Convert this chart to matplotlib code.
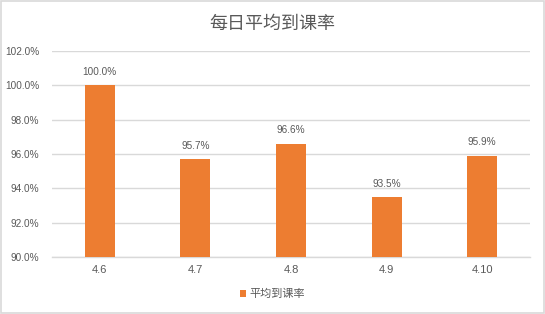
import matplotlib

matplotlib.use("Agg")
import matplotlib.pyplot as plt
import numpy as np
from matplotlib.patches import Rectangle

plt.rcParams["font.family"] = ["Liberation Sans", "Noto Sans CJK SC", "DejaVu Sans"]

TITLE = "每日平均到课率"
SERIES_NAME = "平均到课率"
categories = ["4.6", "4.7", "4.8", "4.9", "4.10"]
rates = [100.0, 95.7, 96.6, 93.5, 95.9]
y_ticks = [90, 92, 94, 96, 98, 100, 102]

TEXT = "#595959"
GRID = "#D9D9D9"
BAR = "#ED7D31"

fig = plt.figure(figsize=(5.45, 3.14), dpi=100)
fig.patch.set_facecolor("white")
fig.add_artist(Rectangle((0.001, 0.002), 0.997, 0.995, transform=fig.transFigure,
                         fill=False, edgecolor=GRID, lw=1.2))

ax = fig.add_axes([0.0954, 0.1815, 0.877, 0.6561])
x = np.arange(len(categories))
bars = ax.bar(x, rates, width=0.314, color=BAR, zorder=3, label=SERIES_NAME)

for xi, v in zip(x, rates):
    ax.annotate(f"{v:.1f}%", (xi, v), xytext=(0, 6), textcoords="offset points",
                ha="center", va="bottom", fontsize=7.2, color=TEXT)

ax.set_xlim(-0.5, len(categories) - 0.5)
ax.set_ylim(90, 102)
ax.set_yticks(y_ticks)
ax.set_yticklabels([f"{t:.1f}%" for t in y_ticks])
ax.set_xticks(x)
ax.set_xticklabels(categories)
ax.tick_params(axis="y", length=0, labelsize=7.2, labelcolor=TEXT, pad=9)
ax.tick_params(axis="x", length=0, labelsize=8, labelcolor=TEXT, pad=6)
ax.grid(True, axis="y", color=GRID, lw=1, zorder=0)
for s in ["top", "right", "left"]:
    ax.spines[s].set_visible(False)
ax.spines["bottom"].set_color(GRID)
ax.spines["bottom"].set_linewidth(1)

fig.text(0.5, 0.925, TITLE, ha="center", va="center", fontsize=13, color=TEXT,
         family=["Noto Sans CJK SC", "DejaVu Sans"])

leg = fig.legend(handles=[bars], labels=[SERIES_NAME], loc="center", bbox_to_anchor=(0.5, 0.063),
                 frameon=False, handlelength=0.6, handleheight=0.6, handletextpad=0.3,
                 prop={"family": ["Noto Sans CJK SC", "DejaVu Sans"], "size": 8})
for t in leg.get_texts():
    t.set_color(TEXT)

fig.savefig("out.png", dpi=100)
